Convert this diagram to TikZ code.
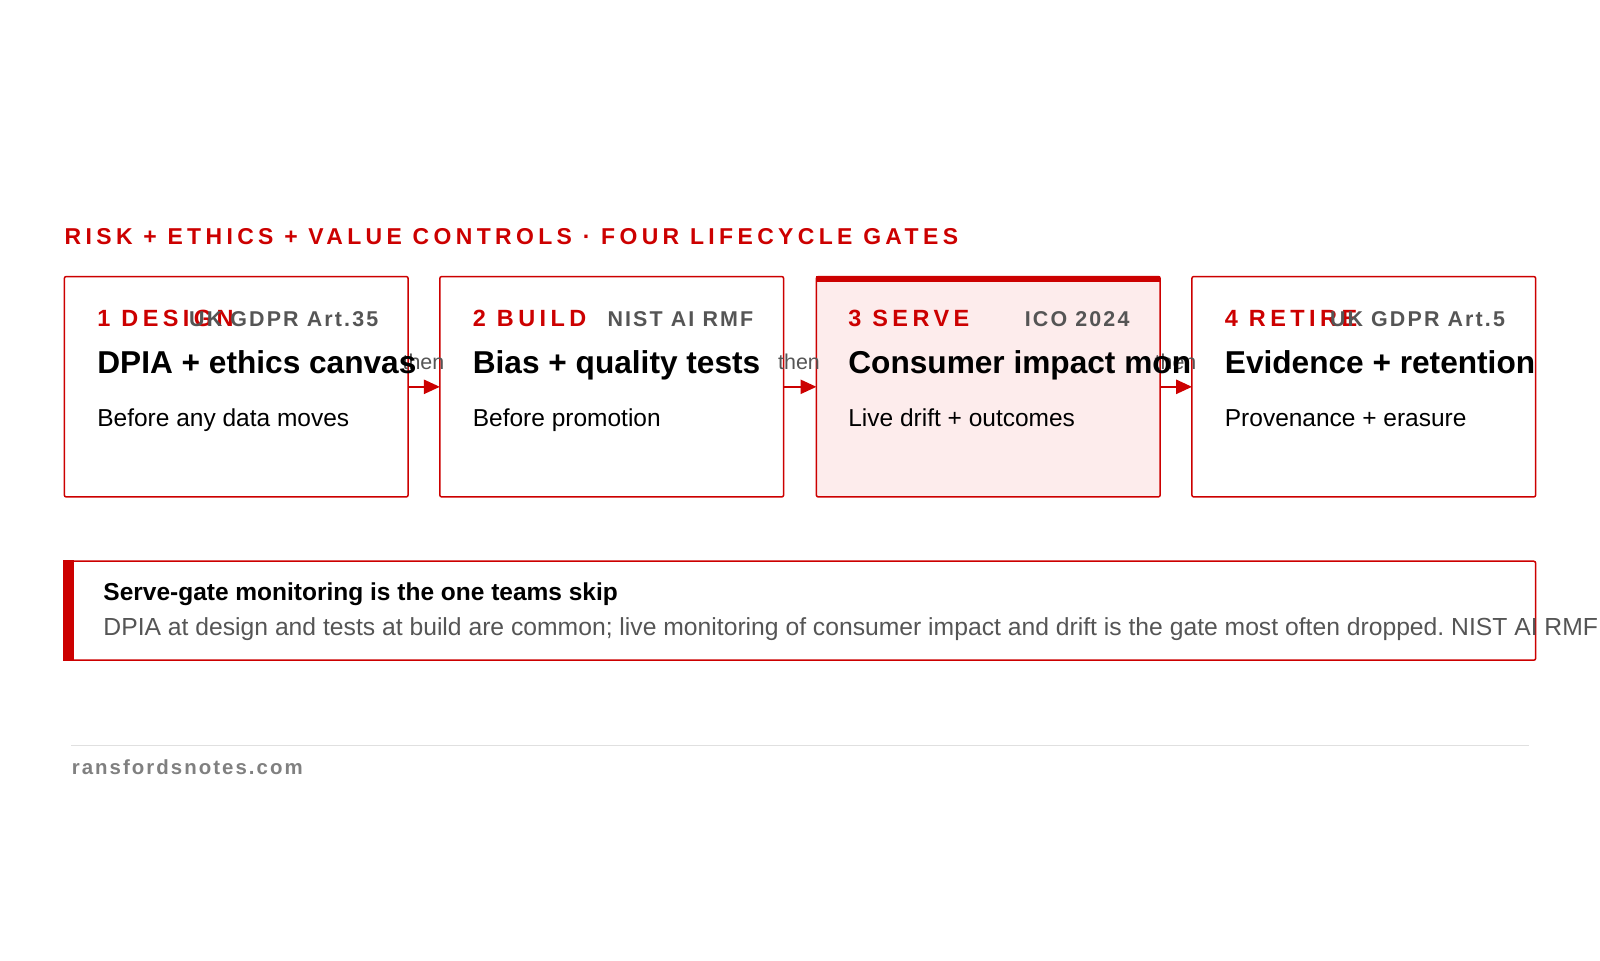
\documentclass[tikz,border=0pt]{standalone}
\usepackage{fontspec}
\setmainfont{Liberation Sans}
\newfontfamily\spaced[LetterSpace=19]{Liberation Sans}
\newfontfamily\tagf[LetterSpace=10]{Liberation Sans}
\usetikzlibrary{arrows.meta}
\definecolor{cred}{HTML}{CC0000}
\definecolor{cgray}{HTML}{555555}
\definecolor{cpink}{HTML}{FDECEC}
\frenchspacing
\begin{document}
\begin{tikzpicture}[x=0.5pt,y=-0.5pt,
  gate/.style={draw=cred,line width=0.75,rounded corners=1},
  hd/.style={anchor=base west,text=cred,font=\spaced\bfseries\fontsize{11.5}{13}\selectfont,inner sep=0},
  tg/.style={anchor=base west,text=cgray,font=\tagf\bfseries\fontsize{10.5}{11}\selectfont,inner sep=0},
  ttl/.style={anchor=base west,font=\bfseries\fontsize{15.5}{17}\selectfont,inner sep=0},
  sub/.style={anchor=base west,font=\fontsize{12}{13}\selectfont,inner sep=0},
  thn/.style={text=cgray,font=\fontsize{10.5}{11}\selectfont,inner sep=0},
  arr/.style={draw=cred,line width=1.25,-{Triangle[length=8,width=7]}}]
\path[use as bounding box] (0,0) rectangle (1600,960);
\begin{scope}[scale=1.0204,every node/.append style={transform shape}]
\node[anchor=base west,text=cred,font=\spaced\bfseries\fontsize{11.25}{13}\selectfont,inner sep=0] (title) at (63,240) {RISK + ETHICS + VALUE CONTROLS · FOUR LIFECYCLE GATES};
\draw[gate] (63,271) rectangle (400,487);
\draw[gate] (431,271) rectangle (768,487);
\draw[gate,fill=cpink] (800,271) rectangle (1137,487);
\fill[cred] (800,270) rectangle (1137,276);
\draw[gate] (1168,271) rectangle (1505,487);
\coordinate (e1) at (400,379); \coordinate (s2) at (431,379);
\coordinate (e2) at (768,379); \coordinate (s3) at (800,379);
\coordinate (e3) at (1137,379); \coordinate (s4) at (1168,379);
\draw[arr] (e1) -- (s2); \draw[arr] (e2) -- (s3); \draw[arr] (e3) -- (s4);
\node[thn] (t1) at (415,355) {then};
\node[thn] (t2) at (783,355) {then};
\node[thn] (t3) at (1152,355) {then};
\node[hd] (h1) at (95,320) {1 DESIGN};
\node[tg] (g1) at (185,320) {UK GDPR Art.35};
\node[ttl] (n1) at (95,366) {DPIA + ethics canvas};
\node[sub] (s1) at (95,418) {Before any data moves};
\node[hd] (h2) at (463,320) {2 BUILD};
\node[tg] (g2) at (595,320) {NIST AI RMF};
\node[ttl] (n2) at (463,366) {Bias + quality tests};
\node[sub] (sb2) at (463,418) {Before promotion};
\node[hd] (h3) at (831,320) {3 SERVE};
\node[tg] (g3) at (1004,320) {ICO 2024};
\node[ttl] (n3) at (831,366) {Consumer impact mon};
\node[sub] (sb3) at (831,418) {Live drift + outcomes};
\node[hd] (h4) at (1200,320) {4 RETIRE};
\node[tg] (g4) at (1303,320) {UK GDPR Art.5};
\node[ttl] (n4) at (1200,366) {Evidence + retention};
\node[sub] (sb4) at (1200,418) {Provenance + erasure};
\draw[gate] (63,550) rectangle (1505,647);
\fill[cred] (62,549.25) rectangle (73,647.75);
\node[anchor=base west,font=\bfseries\fontsize{12}{13}\selectfont,inner sep=0] (c1) at (101,588) {Serve-gate monitoring is the one teams skip};
\node[anchor=base west,text=cgray,font=\fontsize{12.1}{13}\selectfont,inner sep=0] (c2) at (101,623) {DPIA at design and tests at build are common; live monitoring of consumer impact and drift is the gate most often dropped. NIST AI RMF};
\draw[black!12,line width=0.5] (70,731) -- (1498,731);
\node[anchor=base west,text=gray,font=\tagf\bfseries\fontsize{10}{11}\selectfont,inner sep=0] (f) at (70,759) {ransfordsnotes.com};
\end{scope}
\end{tikzpicture}
\end{document}
